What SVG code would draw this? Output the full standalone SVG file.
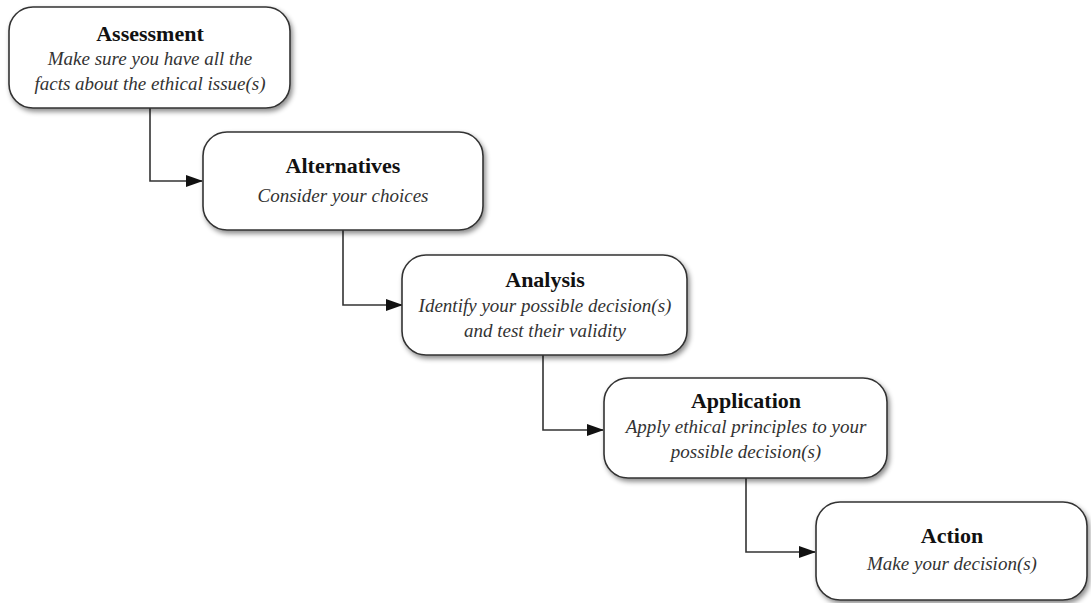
<svg xmlns="http://www.w3.org/2000/svg" width="1091" height="603" viewBox="0 0 1091 603">
<style>
.box{fill:#fff;stroke:#333;stroke-width:1.6;filter:url(#sh)}
.t{font-family:"Liberation Serif","Times New Roman",serif;font-weight:bold;font-size:22px;fill:#111;text-anchor:middle}
.s{font-family:"Liberation Serif","Times New Roman",serif;font-style:italic;font-size:19px;fill:#333;text-anchor:middle}
.c{fill:none;stroke:#333;stroke-width:1.6;marker-end:url(#ah)}
</style>
<defs>
<filter id="sh" x="-10%" y="-10%" width="125%" height="130%">
<feDropShadow dx="2" dy="3" stdDeviation="2.5" flood-color="#000" flood-opacity="0.45"/>
</filter>
<marker id="ah" markerWidth="17" markerHeight="12" refX="16" refY="6" orient="auto" markerUnits="userSpaceOnUse">
<path d="M0,0 L17,6 L0,12 Z" fill="#111"/>
</marker>
</defs>
<g id="connectors">
<path class="c" d="M150,108 V181 H202"/>
<path class="c" d="M343,230 V305 H402"/>
<path class="c" d="M543,355 V430 H603"/>
<path class="c" d="M746,478 V552 H815"/>
</g>
<g id="assessment">
<rect class="box" x="9" y="7" width="281" height="101" rx="24"/>
<text class="t" x="150" y="41">Assessment</text>
<text class="s" x="150" y="65">Make sure you have all the</text>
<text class="s" x="150" y="90">facts about the ethical issue(s)</text>
</g>
<g id="alternatives">
<rect class="box" x="203" y="132" width="280" height="98" rx="24"/>
<text class="t" x="343" y="173">Alternatives</text>
<text class="s" x="343" y="202">Consider your choices</text>
</g>
<g id="analysis">
<rect class="box" x="402" y="255" width="285" height="100" rx="24"/>
<text class="t" x="545" y="287">Analysis</text>
<text class="s" x="545" y="312">Identify your possible decision(s)</text>
<text class="s" x="545" y="337">and test their validity</text>
</g>
<g id="application">
<rect class="box" x="604" y="378" width="283" height="100" rx="24"/>
<text class="t" x="746" y="408">Application</text>
<text class="s" x="746" y="433">Apply ethical principles to your</text>
<text class="s" x="746" y="458">possible decision(s)</text>
</g>
<g id="action">
<rect class="box" x="816" y="502" width="271" height="98" rx="24"/>
<text class="t" x="952" y="543">Action</text>
<text class="s" x="952" y="570">Make your decision(s)</text>
</g>
</svg>
